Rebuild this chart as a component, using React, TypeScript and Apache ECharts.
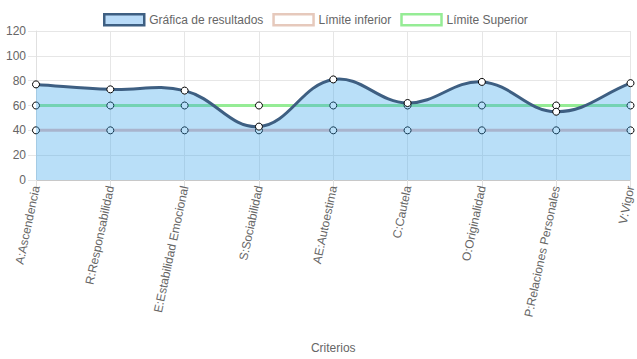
import React, { useEffect, useRef } from "react";
import * as echarts from "echarts";

const categories = [
  "A:Ascendencia",
  "R:Responsabilidad",
  "E:Estabilidad Emocional",
  "S:Sociabilidad",
  "AE:Autoestima",
  "C:Cautela",
  "O:Originalidad",
  "P:Relaciones Personales",
  "V:Vigor",
];
const resultados = [77, 73, 72, 43, 81, 62, 79, 55, 78];
const limiteInferior = [40, 40, 40, 40, 40, 40, 40, 40, 40];
const limiteSuperior = [60, 60, 60, 60, 60, 60, 60, 60, 60];
const yTicks = { min: 0, max: 120, interval: 20 };

const FONT = "'Liberation Sans', Arial, Helvetica, sans-serif";
const TENSION = 0.4;

function splinePath(pts: number[][]) {
  const n = pts.length;
  const cpPrev: number[][] = [];
  const cpNext: number[][] = [];
  for (let i = 0; i < n; i++) {
    const p = pts[i];
    const a = pts[i - 1] || p;
    const b = pts[i + 1] || p;
    const d01 = Math.hypot(p[0] - a[0], p[1] - a[1]);
    const d12 = Math.hypot(b[0] - p[0], b[1] - p[1]);
    const sum = d01 + d12 || 1;
    const fa = (TENSION * d01) / sum;
    const fb = (TENSION * d12) / sum;
    cpPrev[i] = [p[0] - fa * (b[0] - a[0]), p[1] - fa * (b[1] - a[1])];
    cpNext[i] = [p[0] + fb * (b[0] - a[0]), p[1] + fb * (b[1] - a[1])];
  }
  let d = `M${pts[0][0]},${pts[0][1]}`;
  for (let i = 0; i < n - 1; i++) {
    d += ` C${cpNext[i][0]},${cpNext[i][1]} ${cpPrev[i + 1][0]},${cpPrev[i + 1][1]} ${pts[i + 1][0]},${pts[i + 1][1]}`;
  }
  return d;
}

export default function App() {
  const ref = useRef<HTMLDivElement>(null);
  useEffect(() => {
    if (!ref.current) return;
    const chart = echarts.init(ref.current, undefined, { renderer: "svg" });
    const pointStyle = { color: "#ffffff", borderColor: "#000000", borderWidth: 1 };
    chart.setOption({
      animation: false,
      textStyle: { fontFamily: FONT },
      legend: {
        top: 8,
        left: 98,
        icon: "rect",
        itemWidth: 40,
        itemHeight: 11,
        itemGap: 9,
        textStyle: { color: "#666", fontSize: 12, fontFamily: FONT },
        data: [
          {
            name: "Gráfica de resultados",
            itemStyle: { color: "#b9dbf8", borderColor: "#3e5f82", borderWidth: 2.5 },
          },
          {
            name: "Límite inferior",
            itemStyle: { color: "#ffffff", borderColor: "#e6c9bc", borderWidth: 2.5 },
          },
          {
            name: "Límite Superior",
            itemStyle: { color: "#ffffff", borderColor: "#95ec95", borderWidth: 2.5 },
          },
        ],
      },
      grid: { left: 36, right: 4, top: 31, bottom: 179, containLabel: false },
      xAxis: {
        type: "category",
        data: categories,
        boundaryGap: false,
        name: "Criterios",
        nameLocation: "middle",
        nameGap: 162,
        nameTextStyle: { color: "#666", fontSize: 12, fontFamily: FONT },
        axisLine: { show: true, lineStyle: { color: "#c8c8c8", width: 1 } },
        axisTick: { show: true, length: 8, lineStyle: { color: "#e0e0e0" } },
        axisLabel: {
          rotate: 78,
          margin: 6,
          color: "#666",
          fontSize: 12,
          fontFamily: FONT,
          interval: 0,
        },
        splitLine: { show: true, lineStyle: { color: "#e6e6e6" } },
      },
      yAxis: {
        type: "value",
        min: yTicks.min,
        max: yTicks.max,
        interval: yTicks.interval,
        axisLine: { show: true, lineStyle: { color: "#e0e0e0" } },
        axisTick: { show: true, length: 8, lineStyle: { color: "#e6e6e6" } },
        axisLabel: { color: "#666", fontSize: 12, margin: 10, fontFamily: FONT },
        splitLine: { show: true, lineStyle: { color: "#e6e6e6" } },
      },
      series: [
        {
          name: "Límite inferior",
          type: "line",
          z: 2,
          data: limiteInferior,
          symbol: "circle",
          symbolSize: 7,
          lineStyle: { color: "#e6bebe", width: 3 },
          itemStyle: pointStyle,
        },
        {
          name: "Límite Superior",
          type: "line",
          z: 2,
          data: limiteSuperior,
          symbol: "circle",
          symbolSize: 7,
          lineStyle: { color: "#95ec95", width: 3 },
          itemStyle: pointStyle,
        },
        {
          name: "Gráfica de resultados",
          type: "custom",
          coordinateSystem: "cartesian2d",
          z: 4,
          data: resultados.map((v, i) => [i, v]),
          encode: { x: 0, y: 1 },
          renderItem: (params: any, api: any) => {
            if (params.dataIndex !== 0) return null;
            const pts = resultados.map((v, i) => api.coord([i, v]));
            const base = api.coord([0, 0])[1];
            const d = splinePath(pts);
            const last = pts[pts.length - 1];
            const fillD = `${d} L${last[0]},${base} L${pts[0][0]},${base} Z`;
            return {
              type: "group",
              children: [
                {
                  type: "path",
                  shape: { pathData: fillD },
                  style: { fill: "rgba(54,162,235,0.35)", stroke: null },
                },
                {
                  type: "path",
                  shape: { pathData: d },
                  style: { fill: null, stroke: "#3e5f82", lineWidth: 3 },
                },
              ],
            };
          },
        },
        {
          name: "Gráfica de resultados",
          type: "line",
          z: 5,
          data: resultados,
          symbol: "circle",
          symbolSize: 7,
          lineStyle: { opacity: 0, width: 0 },
          itemStyle: pointStyle,
        },
      ],
    });
    return () => chart.dispose();
  }, []);
  return <div ref={ref} style={{ width: 637, height: 359, position: "absolute", left: 0, top: 0 }} />;
}
